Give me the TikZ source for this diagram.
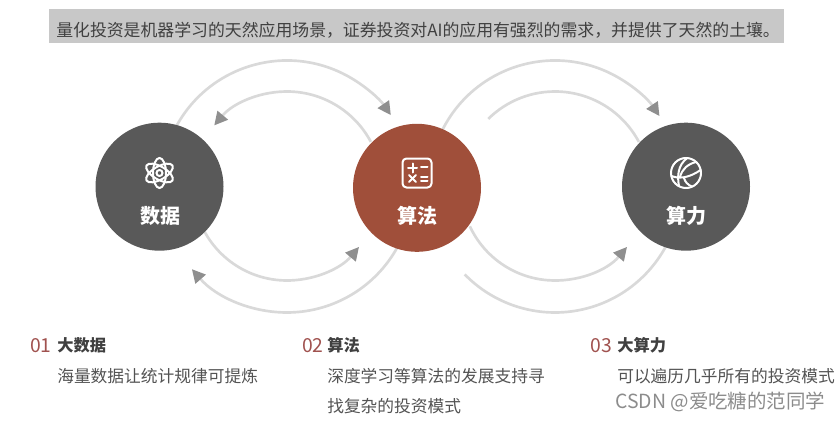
\documentclass[tikz,border=0pt]{standalone}
\usepackage{fontspec}
\setmainfont{Noto Sans CJK SC}
\usetikzlibrary{arrows.meta}
\definecolor{lingray}{HTML}{D9D9D9}
\definecolor{tipgray}{HTML}{8F8F8F}
\definecolor{cirgray}{HTML}{595959}
\definecolor{cirred}{HTML}{A04F3A}
\definecolor{numred}{HTML}{A0524F}
\definecolor{bargray}{HTML}{C8C8C8}
\definecolor{txtgray}{HTML}{404040}

\begin{document}
\begin{tikzpicture}[x=.75pt,y=.75pt]
\tikzstyle{lin}= [draw=lingray, line width=2pt]
\tikzstyle{arr}= [-{Triangle[length=10pt,width=10pt,color=tipgray]}]
\tikzstyle{cir}= [circle, inner sep=0pt, minimum size=96pt, text=white]
\tikzstyle{ico}= [draw=white, line width=1.5pt, line cap=round]
\tikzstyle{ctx}= [text=white, font=\fontsize{15}{18}\selectfont\bfseries]
\tikzstyle{num}= [anchor=west, inner sep=0pt, text=numred, font=\fontsize{14.5}{16}\selectfont]
\tikzstyle{hed}= [anchor=west, inner sep=0pt, text=txtgray, font=\fontsize{12.2}{15}\selectfont\bfseries]
\tikzstyle{bod}= [anchor=west, inner sep=0pt, text=txtgray!90, font=\fontsize{12.55}{15}\selectfont]
\useasboundingbox (0,0) rectangle (840,-421);
%bar
\node[fill=bargray, minimum width=551pt, minimum height=25.5pt, inner sep=0pt] (bar) at (416.5,-26) {};
\node[anchor=west, inner sep=0pt, text=txtgray, font=\fontsize{12.65}{15}\selectfont] (bartxt) at (56,-30) {量化投资是机器学习的天然应用场景，证券投资对AI的应用有强烈的需求，并提供了天然的土壤。};
%left arcs
\def\r{287};
\def\u{-186.5};
\coordinate (o1) at (\r,\u);
\coordinate (to1) at ([shift={(151:126)}]o1);
\coordinate (ti1) at ([shift={(28:95)}]o1);
\coordinate (bi1) at ([shift={(208.8:94)}]o1);
\coordinate (bo1) at ([shift={(331.3:126)}]o1);
\draw[lin,arr] (to1) arc[start angle=151, end angle=34.5, radius=126];
\draw[lin,arr] (ti1) arc[start angle=28, end angle=140, radius=95];
\draw[lin,arr] (bi1) arc[start angle=208.8, end angle=320, radius=94];
\draw[lin,arr] (bo1) arc[start angle=331.3, end angle=221, radius=126];
%right arcs
\def\r{555};
\coordinate (o2) at (\r,\u);
\coordinate (to2) at ([shift={(153:126)}]o2);
\coordinate (ti2) at ([shift={(28:95)}]o2);
\coordinate (bi2) at ([shift={(205:94)}]o2);
\coordinate (bo2) at ([shift={(331.8:126)}]o2);
\draw[lin,arr] (to2) arc[start angle=153, end angle=34, radius=126];
\draw[lin] (ti2) arc[start angle=28, end angle=134.6, radius=95];
\draw[lin,arr] (bi2) arc[start angle=205, end angle=320, radius=94];
\draw[lin] (bo2) arc[start angle=331.8, end angle=224.2, radius=126];
%circles
\node[cir, fill=cirgray] (data) at (159.5,-186.7) {};
\node[cir, fill=cirred] (algo) at (417,-187.8) {};
\node[cir, fill=cirgray] (power) at (686,-186.7) {};
\node[ctx] (datatxt) at (160,-215.5) {数据};
\node[ctx] (algotxt) at (417,-215.5) {算法};
\node[ctx] (powertxt) at (686,-215.5) {算力};
%atom
\def\r{159.5};
\def\u{-173};
\draw[ico] (\r,\u) circle (3);
\draw[ico] (\r,\u) ellipse [x radius=6.5, y radius=15];
\draw[ico, rotate around={60:(\r,\u)}] (\r,\u) ellipse [x radius=6.5, y radius=15];
\draw[ico, rotate around={-60:(\r,\u)}] (\r,\u) ellipse [x radius=6.5, y radius=15];
%calc
\def\r{417};
\draw[ico, rounded corners=3pt] (-14.5+\r,-14.5+\u) rectangle (14.5+\r,14.5+\u);
\draw[ico] (-9+\r,5+\u) -- (0+\r,5+\u);
\draw[ico] (-4.5+\r,.5+\u) -- (-4.5+\r,9.5+\u);
\draw[ico] (4+\r,6+\u) -- (10.5+\r,6+\u);
\draw[ico] (-8+\r,-9+\u) -- (-1+\r,-2+\u);
\draw[ico] (-8+\r,-2+\u) -- (-1+\r,-9+\u);
\draw[ico] (4+\r,-3.5+\u) -- (10.5+\r,-3.5+\u);
\draw[ico] (4+\r,-8+\u) -- (10.5+\r,-8+\u);
%ball
\def\r{686};
\draw[ico] (\r,\u) circle (15);
\draw[ico] (-14.5+\r,-3+\u) .. controls (-5+\r,-7+\u) and (6+\r,-3+\u) .. (14.5+\r,3+\u);
\draw[ico] (1+\r,14.8+\u) .. controls (-8+\r,8+\u) and (-9+\r,-3+\u) .. (-7+\r,-13+\u);
\draw[ico] (10+\r,11+\u) .. controls (2+\r,9+\u) and (-4+\r,4+\u) .. (-6+\r,-4+\u);
\draw[ico] (-2+\r,-5+\u) .. controls (-1+\r,-9+\u) and (2+\r,-12+\u) .. (6+\r,-13.5+\u);
%text
\node[num] (n1) at (30,-345.5) {01};
\node[hed] (h1) at (57,-345.5) {大数据};
\node[bod] (b1) at (57,-376.5) {海量数据让统计规律可提炼};
\node[num] (n2) at (302,-345.5) {02};
\node[hed] (h2) at (327,-345.5) {算法};
\node[bod] (b2) at (327,-376.5) {深度学习等算法的发展支持寻};
\node[bod] (b3) at (327,-406.5) {找复杂的投资模式};
\node[num] (n3) at (590,-345.5) {03};
\node[hed] (h3) at (617,-345.5) {大算力};
\node[bod] (b4) at (617,-376.5) {可以遍历几乎所有的投资模式};
\node[anchor=west, inner sep=0pt, text=black!45, font=\fontsize{14.6}{17}\selectfont] (mark) at (615,-402) {CSDN @爱吃糖的范同学};
\end{tikzpicture}
\end{document}
